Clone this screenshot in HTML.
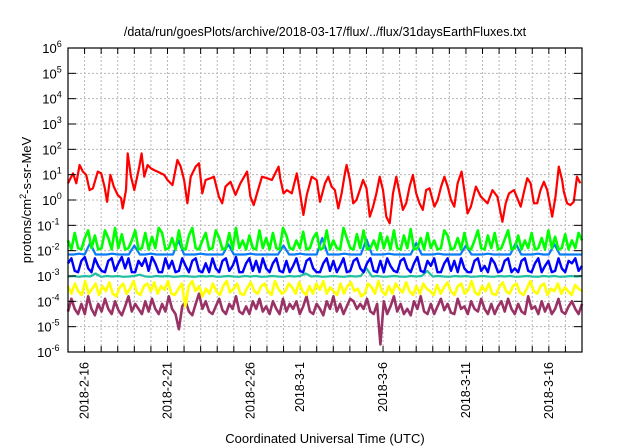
<!DOCTYPE html>
<html><head><meta charset="utf-8"><style>
html,body{margin:0;padding:0;background:#fff;}
svg{display:block;font-family:"Liberation Sans",sans-serif;}
</style></head><body>
<svg id="chart" width="640" height="448" viewBox="0 0 640 448" xmlns="http://www.w3.org/2000/svg">
<text x="325" y="36" font-size="12.5" text-anchor="middle" fill="#000">/data/run/goesPlots/archive/2018-03-17/flux/../flux/31daysEarthFluxes.txt</text>
<text transform="translate(31,200) rotate(-90)" font-size="13" text-anchor="middle" fill="#000">protons/cm<tspan dy="-5" font-size="9">2</tspan><tspan dy="5">-s-sr-MeV</tspan></text>
<text x="325" y="443" font-size="13" text-anchor="middle" fill="#000">Coordinated Universal Time (UTC)</text>
<g id="grid"></g><g id="series"></g><g id="axes"></g>
</svg>
<script>
const xTickDays = [1, 6, 11, 14, 19, 24, 29];
const xTickLabels = ["2018-2-16","2018-2-21","2018-2-26","2018-3-1","2018-3-6","2018-3-11","2018-3-16"];
const yTickExps = [-6,-5,-4,-3,-2,-1,0,1,2,3,4,5,6];
const redT = [0,0.3,0.5,0.7,0.9,1.1,1.3,1.5,1.8,2.0,2.2,2.36,2.56,2.76,3.0,3.2,3.3,3.5,3.6,3.8,4.0,4.2,4.3,4.44,4.6,4.8,5.0,5.2,5.4,5.8,6.0,6.3,6.6,6.8,7.0,7.2,7.4,7.7,7.9,8.1,8.3,8.6,8.8,9.1,9.3,9.5,9.8,10.1,10.4,10.8,11.0,11.2,11.4,11.7,12.0,12.3,12.7,12.8,13.0,13.2,13.5,13.8,14.0,14.2,14.4,14.7,15.0,15.2,15.5,15.7,15.9,16.1,16.3,16.5,16.7,16.8,17.0,17.2,17.4,17.6,17.8,18.0,18.2,18.4,18.6,18.8,19.0,19.2,19.4,19.6,19.8,20.0,20.2,20.4,20.6,20.8,21.0,21.2,21.4,21.6,21.8,22.1,22.3,22.5,22.7,22.9,23.1,23.3,23.5,23.74,23.9,24.1,24.3,24.6,24.9,25.1,25.3,25.6,25.9,26.2,26.4,26.6,26.9,27.1,27.3,27.5,27.7,27.9,28.1,28.3,28.5,28.7,28.9,29.2,29.4,29.6,29.8,29.9,30.1,30.3,30.5,30.7,30.9];
const redLog = [0.66,1.05,0.66,1.38,1.12,0.99,0.39,0.46,1.12,1.05,0.53,-0.07,0.99,0.53,0.20,0.07,-0.33,0.39,1.84,0.92,0.39,0.99,1.32,1.84,0.92,1.38,1.25,1.18,1.12,0.99,0.79,0.59,1.58,1.32,0.79,-0.13,0.92,1.32,1.45,0.26,0.79,0.86,0.92,0.13,-0.13,0.53,0.72,0.20,0.66,1.12,0.13,-0.20,0.26,0.92,0.86,0.79,1.32,0.86,0.26,0.39,0.26,1.05,0.26,-0.59,0.20,0.92,0.79,-0.07,0.66,0.92,0.53,0.39,-0.33,0.26,1.05,1.38,0.79,-0.13,0.0,0.39,0.79,0.46,-0.66,-0.26,0.26,0.92,0.39,-0.66,-0.92,0.26,0.92,0.26,-0.39,-0.13,0.53,0.99,0.26,-0.13,-0.39,0.39,0.46,-0.26,0.0,0.53,0.92,0.53,0.0,-0.26,0.66,1.12,0.39,-0.53,-0.26,0.53,0.13,0.0,-0.13,0.39,0.13,-0.86,-0.13,0.26,0.39,0.07,-0.26,0.33,0.86,0.66,-0.13,-0.13,0.39,0.72,0.39,-0.66,0.13,1.32,0.79,0.33,-0.13,-0.20,-0.07,0.92,0.66];
const greenLog = [-1.6,-1.95,-1.3,-1.9,-1.95,-1.5,-1.2,-1.9,-1.4,-1.95,-1.9,-1.2,-1.5,-1.95,-1.1,-1.9,-1.35,-1.95,-1.9,-1.6,-1.2,-1.95,-1.9,-1.3,-1.95,-1.45,-1.9,-1.1,-1.3,-1.95,-1.9,-1.5,-1.95,-1.2,-1.9,-1.95,-1.4,-1.1,-1.9,-1.95,-1.6,-1.3,-1.95,-1.9,-1.2,-1.5,-1.95,-1.9,-1.3,-1.95,-1.1,-1.9,-1.6,-1.95,-1.4,-1.9,-1.95,-1.2,-1.9,-1.5,-1.95,-1.3,-1.9,-1.95,-1.1,-1.4,-1.9,-1.95,-1.6,-1.9,-1.25,-1.95,-1.9,-1.5,-1.3,-1.95,-1.9,-1.2,-1.95,-1.6,-1.9,-1.95,-1.1,-1.5,-1.9,-1.95,-1.35,-1.9,-1.2,-1.95,-1.9,-1.6,-1.95,-1.3,-1.9,-1.45,-1.95,-1.2,-1.9,-1.95,-1.4,-1.9,-1.15,-1.95,-1.9,-1.5,-1.95,-1.3,-1.9,-1.6,-1.95,-1.9,-1.2,-1.4,-1.95,-1.9,-1.5,-1.95,-1.3,-1.9,-1.95,-1.6,-1.2,-1.9,-1.95,-1.4,-1.9,-1.3,-1.95,-1.9,-1.55,-1.2,-1.95,-1.9,-1.4,-1.95,-1.6,-1.9,-1.3,-1.95,-1.9,-1.5,-1.95,-1.2,-1.9,-1.45,-1.95,-1.9,-1.35,-1.95,-1.6,-1.9,-1.3,-1.6];
const lightBlueLog = [-2.15,-2.15,-2.12,-2.15,-1.7,-2.15,-2.15,-2.15,-2.12,-2.15,-2.15,-2.15,-1.8,-2.15,-2.15,-2.12,-2.15,-2.15,-2.15,-2.15,-1.6,-2.15,-2.15,-2.15,-2.12,-2.15,-2.15,-2.15,-2.15,-1.75,-2.15,-2.15,-2.15,-2.12,-2.15,-2.15,-2.15,-2.15,-2.15,-1.8,-2.15,-2.15,-2.12,-2.15,-2.15,-2.15,-1.5,-2.15,-2.15,-2.15,-2.12,-2.15,-2.15,-2.15,-1.55,-2.15,-2.15,-2.15,-2.12,-2.15,-2.15,-2.15,-2.15,-1.7,-2.15,-2.15,-2.15,-2.12,-2.15,-2.15,-2.15,-2.15,-1.8,-2.15,-2.15,-2.15,-2.12,-2.15,-2.15,-2.15,-2.15,-1.7,-2.15,-2.15,-2.15,-2.12,-2.15,-2.15,-1.75,-2.15,-2.15,-2.15,-2.15,-2.15];
const blueLog = [-2.5,-2.3,-2.8,-2.85,-2.4,-2.25,-2.7,-2.85,-2.3,-2.6,-2.8,-2.85,-2.4,-2.3,-2.8,-2.5,-2.25,-2.7,-2.3,-2.85,-2.85,-2.4,-2.6,-2.3,-2.8,-2.25,-2.5,-2.85,-2.85,-2.3,-2.7,-2.4,-2.85,-2.8,-2.3,-2.6,-2.85,-2.4,-2.3,-2.8,-2.85,-2.5,-2.85,-2.3,-2.7,-2.85,-2.4,-2.3,-2.8,-2.6,-2.25,-2.85,-2.85,-2.5,-2.3,-2.8,-2.4,-2.85,-2.3,-2.7,-2.85,-2.5,-2.3,-2.8,-2.85,-2.4,-2.85,-2.6,-2.3,-2.8,-2.85,-2.4,-2.3,-2.7,-2.85,-2.85,-2.5,-2.3,-2.8,-2.4,-2.85,-2.6,-2.3,-2.85,-2.8,-2.4,-2.3,-2.7,-2.85,-2.5,-2.3,-2.8,-2.85,-2.4,-2.85,-2.3,-2.6,-2.8,-2.85,-2.4,-2.3,-2.7,-2.85,-2.5,-2.25,-2.8,-2.85,-2.4,-2.6,-2.3,-2.85,-2.85,-2.5,-2.3,-2.8,-2.4,-2.85,-2.3,-2.7,-2.85,-2.85,-2.4,-2.3,-2.8,-2.6,-2.85,-2.3,-2.5,-2.85,-2.8,-2.4,-2.3,-2.85,-2.7,-2.85,-2.4,-2.3,-2.8,-2.85,-2.5,-2.3,-2.85,-2.6,-2.4,-2.85,-2.8,-2.3,-2.7,-2.85,-2.4,-2.5,-2.3,-2.8,-2.6];
const tealLog = [-3.02,-3.0,-3.03,-3.0,-3.02,-2.9,-3.03,-3.0,-3.02,-3.0,-3.03,-3.02,-3.0,-2.95,-3.02,-3.03,-3.0,-3.02,-3.0,-3.03,-3.02,-3.0,-3.02,-3.03,-3.0,-3.02,-3.0,-3.03,-3.02,-3.0,-3.02,-3.03,-3.0,-3.02,-3.0,-3.03,-3.02,-3.0,-3.02,-3.03,-3.0,-3.02,-3.0,-2.9,-3.02,-3.0,-3.03,-3.02,-3.0,-3.02,-3.03,-3.0,-3.02,-3.0,-2.7,-3.02,-3.0,-3.03,-3.02,-3.0,-3.02,-3.03,-3.0,-3.02,-3.0,-2.8,-3.02,-3.0,-3.02,-3.03,-3.0,-3.02,-3.0,-3.03,-3.02,-3.0,-3.02,-3.03,-3.0,-3.02,-3.0,-3.03,-3.02,-3.0,-3.02,-3.03,-3.0,-3.02,-3.0,-3.03,-3.02,-3.0,-3.02,-3.0];
const yellowLog = [-3.4,-3.7,-3.3,-3.6,-3.75,-3.2,-3.7,-3.5,-3.3,-3.75,-3.4,-3.6,-3.25,-3.7,-3.8,-3.45,-3.3,-3.7,-3.5,-3.2,-3.65,-3.75,-3.4,-3.3,-3.6,-3.25,-3.7,-3.4,-3.55,-3.2,-3.7,-3.75,-3.5,-3.3,-4.2,-3.4,-3.2,-3.6,-3.4,-3.8,-3.5,-3.7,-3.3,-3.6,-3.75,-3.4,-3.2,-3.65,-3.5,-3.3,-3.7,-3.75,-3.45,-3.25,-3.6,-3.7,-3.4,-3.3,-3.6,-3.75,-3.2,-3.5,-3.7,-3.6,-3.3,-3.45,-3.7,-3.25,-3.6,-3.75,-3.4,-3.7,-3.3,-3.55,-3.2,-3.7,-3.45,-3.6,-3.75,-3.3,-3.7,-3.4,-3.25,-3.6,-3.5,-3.8,-3.7,-3.3,-3.45,-3.7,-3.2,-3.6,-3.75,-3.4,-3.7,-3.3,-3.5,-3.65,-3.25,-3.6,-3.75,-3.4,-3.7,-3.3,-3.5,-3.6,-3.75,-3.35,-3.7,-3.45,-3.25,-3.6,-3.75,-3.4,-3.3,-3.7,-3.55,-3.2,-3.65,-3.75,-3.4,-3.6,-3.3,-3.7,-3.75,-3.45,-3.25,-3.6,-3.7,-3.4,-3.3,-3.65,-3.75,-3.5,-3.2,-3.6,-3.7,-3.4,-3.3,-3.75,-3.5,-3.6,-3.3,-3.7,-3.45,-3.6,-3.75,-3.35,-3.5,-3.6];
const maroonLog = [-4.4,-3.9,-4.3,-4.5,-4.1,-4.5,-3.8,-4.3,-4.55,-4.1,-4.4,-3.9,-4.3,-4.5,-4.0,-4.35,-4.55,-4.2,-3.8,-4.4,-4.1,-4.3,-4.5,-4.0,-4.4,-3.9,-4.3,-4.5,-4.1,-4.4,-3.8,-4.3,-4.5,-5.1,-4.2,-4.0,-4.4,-4.55,-4.1,-3.7,-4.3,-4.0,-4.4,-4.5,-4.2,-3.9,-4.35,-4.5,-4.1,-4.3,-3.8,-4.4,-4.5,-4.2,-4.5,-4.0,-4.3,-3.9,-4.4,-4.2,-4.5,-4.0,-4.3,-4.5,-3.9,-4.4,-4.1,-4.3,-4.0,-4.5,-4.2,-3.8,-4.4,-4.5,-4.1,-4.3,-4.55,-4.0,-4.3,-3.8,-4.4,-4.1,-4.5,-4.2,-3.9,-4.0,-4.3,-4.1,-4.3,-3.9,-4.4,-4.5,-4.1,-5.7,-4.0,-4.5,-4.2,-3.8,-4.4,-4.1,-4.5,-4.3,-4.55,-4.0,-4.3,-3.8,-4.4,-4.5,-4.1,-4.5,-4.2,-3.9,-4.35,-4.1,-4.45,-4.5,-3.9,-4.3,-4.2,-4.5,-4.0,-4.3,-4.4,-3.9,-4.3,-4.5,-4.1,-4.5,-4.2,-4.0,-4.4,-3.9,-4.3,-4.5,-4.1,-4.4,-4.5,-3.8,-4.3,-4.2,-4.5,-4.0,-4.4,-4.1,-4.5,-4.3,-3.9,-4.4,-4.5,-4.2,-4.0,-4.3,-4.5,-4.1];

const X0 = 68, X1 = 582, Y0 = 48, Y1 = 352, DAYS = 31;
const NS = "http://www.w3.org/2000/svg";
function xScale(t){ return X0 + (X1 - X0) * t / DAYS; }
function yScale(e){ return Y1 - (Y1 - Y0) * (e + 6) / 12; }
function mk(tag, attrs, parent){
  const el = document.createElementNS(NS, tag);
  for (const k in attrs) el.setAttribute(k, attrs[k]);
  parent.appendChild(el);
  return el;
}
const grid = document.getElementById('grid');
const axes = document.getElementById('axes');
const ser = document.getElementById('series');
for (let d = 1; d < DAYS; d++) {
  const x = xScale(d);
  const g = mk('line', {x1:x, x2:x, y1:Y0, y2:Y1, stroke:'#b8b8b8', 'stroke-width':1, 'stroke-dasharray':'2,2'}, grid);
  
  
  const t1 = mk('line', {x1:x, x2:x, y1:Y1, y2:Y1-6, stroke:'#000', 'stroke-width':1}, axes);
  
  
  const t2 = mk('line', {x1:x, x2:x, y1:Y0, y2:Y0+6, stroke:'#000', 'stroke-width':1}, axes);
  
  
}
yTickExps.forEach(e => {
  const y = yScale(e);
  if (e > -6 && e < 6) {
    const g = mk('line', {x1:X0, x2:X1, y1:y, y2:y, stroke:'#b8b8b8', 'stroke-width':1, 'stroke-dasharray':'2,2'}, grid);
    
    
  }
  const a = mk('line', {x1:X0, x2:X0+8, y1:y, y2:y, stroke:'#000'}, axes);
  
  
  const b = mk('line', {x1:X1, x2:X1-8, y1:y, y2:y, stroke:'#000'}, axes);
  
  
  const lbl = String(e);
  const tx = mk('text', {x: 62 - (14.5 + lbl.length * 5.2), y:y+5, 'font-size':13, 'text-anchor':'start', fill:'#000'}, axes);
  
  
  tx.appendChild(document.createTextNode('10'));
  const sup = mk('tspan', {dy:-6, 'font-size':9}, tx);
  sup.textContent = lbl;
});
xTickDays.forEach((d, i) => {
  const x = xScale(d);
  const tx = mk('text', {transform:`translate(${x+4},362) rotate(-90)`, 'font-size':12.5, 'text-anchor':'end', fill:'#000'}, axes);
  
  
  tx.textContent = xTickLabels[i];
});
const frame = mk('rect', {x:X0, y:Y0, width:X1-X0, height:Y1-Y0, fill:'none', stroke:'#000', 'stroke-width':1.2}, axes);



function drawSeries(times, vals, color, name, w){
  const pts = vals.map((v, i) => xScale(times ? times[i] : i * DAYS / (vals.length - 1)).toFixed(1) + ',' + yScale(v).toFixed(1)).join(' ');
  const p = mk('polyline', {points:pts, fill:'none', stroke:color, 'stroke-width':w, 'stroke-linejoin':'round'}, ser);
  
  
}
drawSeries(null, maroonLog, '#993366', 'series-maroon', 2.6);
drawSeries(null, yellowLog, '#ffff00', 'series-yellow', 2.6);
drawSeries(null, tealLog, '#20c0a0', 'series-teal', 2.2);
drawSeries(null, blueLog, '#0000ff', 'series-blue', 2.4);
drawSeries(null, lightBlueLog, '#0a7cf5', 'series-light-blue', 2.2);
drawSeries(null, greenLog, '#00ff00', 'series-green', 2.6);
drawSeries(redT, redLog, '#ff0000', 'series-red', 2.2);
</script>
</body></html>
